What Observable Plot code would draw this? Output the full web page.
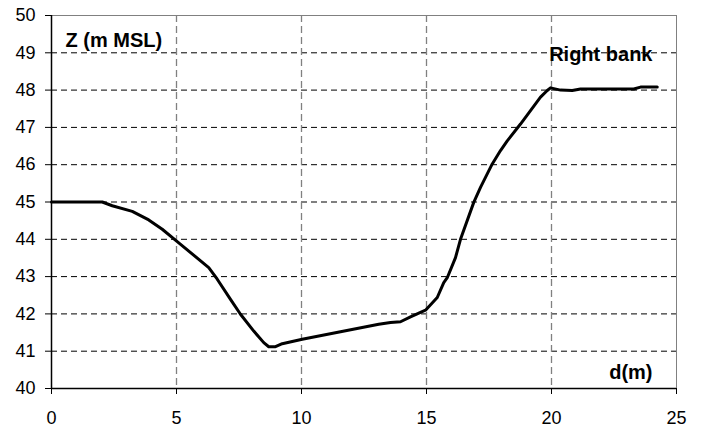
<!DOCTYPE html>
<html>
<head>
<meta charset="utf-8">
<script src="https://cdn.jsdelivr.net/npm/d3@7"></script>
<script src="https://cdn.jsdelivr.net/npm/@observablehq/plot@0.6"></script>
<style>
  html, body { margin: 0; padding: 0; background: #fff; }
  #chart { width: 704px; height: 428px; }
</style>
</head>
<body>
<div id="chart"></div>
<script>
const distance = [0, 2.03, 2.43, 3.23, 3.89, 4.43, 5.03, 6.29, 6.63, 7.16, 7.56, 8.09, 8.49, 8.69, 8.96, 9.23, 10.03, 13.09, 13.56, 13.96, 14.36, 14.96, 15.43, 15.69, 15.83, 16.16, 16.36, 16.89, 17.16, 17.63, 17.96, 18.23, 18.76, 19.56, 19.83, 19.96, 20.36, 20.83, 21.16, 23.29, 23.56, 24.23];
const elevation = [45.0, 45.0, 44.9, 44.75, 44.52, 44.27, 43.94, 43.24, 42.93, 42.39, 41.99, 41.54, 41.23, 41.12, 41.12, 41.2, 41.32, 41.72, 41.77, 41.79, 41.92, 42.1, 42.44, 42.84, 42.97, 43.51, 44.0, 44.99, 45.39, 46.02, 46.38, 46.64, 47.09, 47.81, 47.99, 48.06, 48.0, 47.99, 48.03, 48.03, 48.08, 48.08];
const xTicks = [0, 5, 10, 15, 20, 25];
const yTicks = [40, 41, 42, 43, 44, 45, 46, 47, 48, 49, 50];
const yLabel = "Z (m MSL)";
const xLabel = "d(m)";
const bankLabel = "Right bank";

const profile = distance.map((d, i) => ({d, z: elevation[i]}));
const font = "'Liberation Sans', Arial, Helvetica, sans-serif";

const chart = Plot.plot({
  width: 704,
  height: 428,
  marginLeft: 51,
  marginRight: 28,
  marginTop: 15,
  marginBottom: 40,
  style: {fontFamily: font, fontSize: "18px", background: "#fff", color: "#000", overflow: "visible"},
  x: {domain: [0, 25]},
  y: {domain: [40, 50]},
  marks: [
    Plot.gridY(yTicks.slice(1, -1), {stroke: "#000", strokeOpacity: 1, strokeWidth: 1, strokeDasharray: "6,4"}),
    Plot.gridX(xTicks.slice(1, -1), {stroke: "#808080", strokeOpacity: 1, strokeWidth: 1.3, strokeDasharray: "7,4"}),
    Plot.ruleY([50], {stroke: "#808080", strokeWidth: 1}),
    Plot.ruleX([25], {stroke: "#808080", strokeWidth: 1}),
    Plot.ruleX([0], {stroke: "#000", strokeWidth: 1.5}),
    Plot.ruleY([40], {stroke: "#000", strokeWidth: 1.5}),
    Plot.axisY({ticks: yTicks, tickSize: 6, tickPadding: 10, label: null, fontSize: 18, tickFormat: d => String(d)}),
    Plot.axisX({ticks: xTicks, tickSize: 6, tickPadding: 17, label: null, fontSize: 18, tickFormat: d => String(d)}),
    Plot.line(profile, {x: "d", y: "z", stroke: "#000", strokeWidth: 3, strokeLinejoin: "round", strokeLinecap: "round"}),
    Plot.text([yLabel], {frameAnchor: "top-left", dx: 14, dy: 25.5, textAnchor: "start", lineAnchor: "middle", fontWeight: "bold", fontSize: 20, text: d => d}),
    Plot.text([bankLabel], {frameAnchor: "top-right", dx: -24, dy: 39, textAnchor: "end", lineAnchor: "middle", fontWeight: "bold", fontSize: 20, text: d => d}),
    Plot.text([xLabel], {frameAnchor: "bottom-right", dx: -24, dy: -16, textAnchor: "end", lineAnchor: "middle", fontWeight: "bold", fontSize: 20, text: d => d})
  ]
});
document.getElementById("chart").appendChild(chart);
</script>
</body>
</html>
